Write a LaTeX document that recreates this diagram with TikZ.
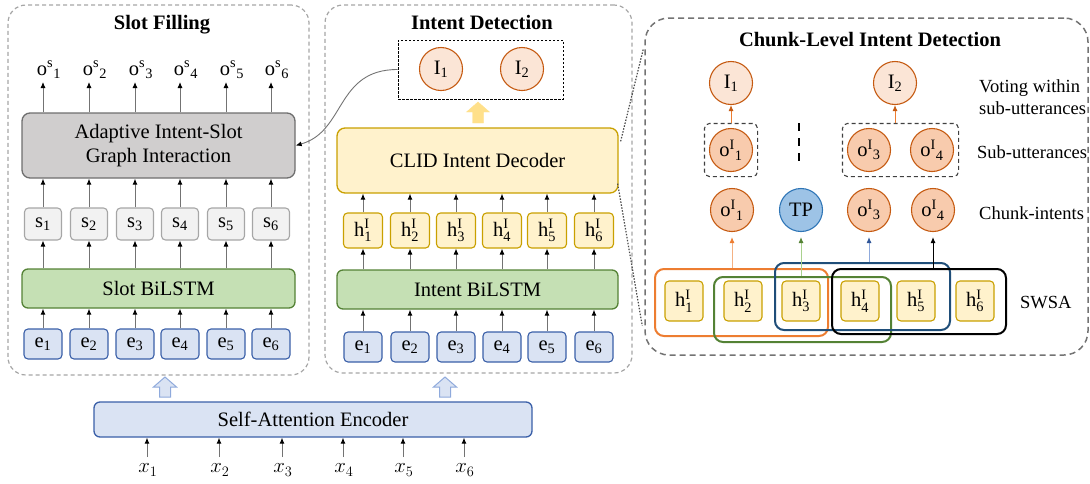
\documentclass[tikz,border=0pt]{standalone}
\usepackage{fontspec}
\setmainfont{Liberation Serif}
\setmathrm{Liberation Serif}
\usetikzlibrary{arrows.meta,fit,calc}

\definecolor{eblue}{HTML}{DAE3F3}
\definecolor{eblueD}{HTML}{3A5FA8}
\definecolor{sgray}{HTML}{F2F2F2}
\definecolor{sgrayD}{HTML}{A6A6A6}
\definecolor{hy}{HTML}{FFF2CC}
\definecolor{hyD}{HTML}{C9A000}
\definecolor{lg}{HTML}{C5E0B4}
\definecolor{lgD}{HTML}{548235}
\definecolor{ag}{HTML}{D0CECE}
\definecolor{agD}{HTML}{6E6E6E}
\definecolor{cl}{HTML}{FBE5D6}
\definecolor{cD}{HTML}{C55A11}
\definecolor{cm}{HTML}{F8CBAD}
\definecolor{tpc}{HTML}{9DC3E6}
\definecolor{tpD}{HTML}{2E75B6}
\definecolor{cor}{HTML}{ED7D31}
\definecolor{corL}{HTML}{F4B183}
\definecolor{cgr}{HTML}{548235}
\definecolor{cgrL}{HTML}{A9D18E}
\definecolor{cbl}{HTML}{1F4E79}
\definecolor{cblL}{HTML}{8FAADC}
\definecolor{cblH}{HTML}{2F5597}
\definecolor{yarr}{HTML}{FFE08A}
\definecolor{barr}{HTML}{DAE3F3}
\definecolor{barrD}{HTML}{8FAADC}

\newcommand\hI[1]{$\mathrm{h}^{\mathrm{I}}_{\mathrm{#1}}$}
\newcommand\oI[1]{o\textsuperscript{I}\textsubscript{#1}}
\newcommand\oS[1]{o\textsuperscript{s}\textsubscript{#1}}
\newcommand\blockup[4]{%
  \draw[#4] (#1-5.5,#3) -- (#1-5.5,#2+10) -- (#1-11.5,#2+10) -- (#1,#2)
    -- (#1+11.5,#2+10) -- (#1+5.5,#2+10) -- (#1+5.5,#3) -- cycle;}

\begin{document}
\begin{tikzpicture}[x=1pt,y=-1pt,
  every node/.style={font=\fontsize{20.5}{23.5}\selectfont, inner sep=0pt},
  panel/.style={draw=black!35, dash pattern=on 4pt off 3pt, line width=1.2pt, rounded corners=18pt},
  cpanel/.style={draw=black!55, dash pattern=on 6pt off 4pt, line width=1.5pt, rounded corners=24pt},
  ebox/.style={draw=eblueD, fill=eblue, line width=1.1pt, rounded corners=4pt, minimum width=38pt, minimum height=30pt},
  sbox/.style={draw=sgrayD, fill=sgray, line width=1.1pt, rounded corners=4pt, minimum width=37pt, minimum height=32pt},
  hbox/.style={draw=hyD, fill=hy, line width=1.1pt, rounded corners=4pt, minimum width=39pt, minimum height=35pt},
  chbox/.style={draw=hyD, fill=hy, line width=1.1pt, rounded corners=4pt, minimum width=38pt, minimum height=40pt},
  lstm/.style={draw=lgD, fill=lg, line width=1.3pt, rounded corners=6pt, minimum height=39pt},
  adapt/.style={draw=agD, fill=ag, line width=1.3pt, rounded corners=8pt, minimum width=273pt, minimum height=65pt, align=center},
  dec/.style={draw=hyD, fill=hy, line width=1.3pt, rounded corners=8pt, minimum width=281pt, minimum height=65pt},
  enc/.style={draw=eblueD, fill=eblue, line width=1.3pt, rounded corners=6pt, minimum width=438pt, minimum height=35pt},
  lightc/.style={circle, draw=cD, fill=cl, line width=1.1pt, minimum size=43pt},
  midc/.style={circle, draw=cD, fill=cm, line width=1.1pt, minimum size=43pt},
  tpcirc/.style={circle, draw=tpD, fill=tpc, line width=1.1pt, minimum size=43pt},
  arr/.style={draw=black!55, line width=0.9pt, -{Latex[length=6pt,width=5pt,color=black]}},
  carr/.style args={#1/#2}{draw=#1, line width=0.9pt, -{Latex[length=6pt,width=5pt,color=#2]}},
  subbox/.style={draw=black!75, dash pattern=on 4pt off 3pt, line width=1.1pt, rounded corners=5pt, inner sep=4.5pt},
  win/.style={draw=#1, line width=2pt, rounded corners=9pt},
  dotline/.style={draw=black!70, line width=1.2pt, dash pattern=on 1.5pt off 1.5pt},
  lab/.style={font=\fontsize{18.5}{22}\selectfont, anchor=west, align=left},
  title/.style={font=\fontsize{20.5}{23.5}\selectfont\bfseries}
  ]
\useasboundingbox (0,0) rectangle (1090,483);

% ---------------- panels
\node[panel, minimum width=301pt, minimum height=370pt] (spanel) at (158.5,190) {};
\node[panel, minimum width=307pt, minimum height=368pt] (ipanel) at (478.5,189) {};
\node[cpanel, minimum width=443pt, minimum height=337pt] (chunk) at (866.5,186.5) {};
\node[title] (stitle) at (162,25) {Slot Filling};
\node[title] (ititle) at (482,22) {Intent Detection};
\node[title] (ctitle) at (870,40) {Chunk-Level Intent Detection};

% ---------------- slot filling
\node[lstm, minimum width=273pt] (slstm) at (158.5,288.5) {Slot BiLSTM};
\node[adapt] (adapt) at (158.5,145.5) {Adaptive Intent-Slot\\Graph Interaction};
\foreach \i/\x in {1/43,2/89,3/135,4/180,5/226,6/271} {
  \node[ebox] (le\i) at (\x,344) {e\textsubscript{\i}};
  \node[sbox] (ls\i) at (\x,224) {s\textsubscript{\i}};
  \node[anchor=base] (lo\i) at (\x+6,75) {\oS{\i}};
  \coordinate (lt\i) at (\x,82);
  \draw[arr] (le\i.north) -- (le\i |- slstm.south);
  \draw[arr] (ls\i |- slstm.north) -- (ls\i.south);
  \draw[arr] (ls\i.north) -- (ls\i |- adapt.south);
  \draw[arr] (ls\i |- adapt.north) -- (lt\i);
}

% ---------------- intent detection
\node[lstm, minimum width=281pt] (ilstm) at (477.5,289.5) {Intent BiLSTM};
\node[dec] (dec) at (477.5,160.5) {CLID Intent Decoder};
\foreach \i/\x in {1/363,2/410,3/456,4/502,5/547,6/594} {
  \node[ebox] (ie\i) at (\x,347) {e\textsubscript{\i}};
  \node[hbox] (ih\i) at (\x,230.5) {\hI{\i}};
  \draw[arr] (ie\i.north) -- (ie\i |- ilstm.south);
  \draw[arr] (ih\i |- ilstm.north) -- (ih\i.south);
  \draw[arr] (ih\i.north) -- (ih\i |- dec.south);
}
\node[lightc] (iI1) at (441,69) {I\textsubscript{1}};
\node[lightc] (iI2) at (522,69) {I\textsubscript{2}};
\node[draw=black, dash pattern=on 2.5pt off 1.5pt, line width=0.9pt, minimum width=165pt, minimum height=59pt] (ibox) at (480.5,69.5) {};
\blockup{478}{102}{123}{fill=yarr, draw=yarr}
\draw[arr] (ibox.west) .. controls +(-62,0) and +(50,-14) .. (adapt.east);

% ---------------- encoder
\node[enc] (enc) at (313,419.5) {Self-Attention Encoder};
\foreach \i/\x in {1/147,2/219,3/282,4/343,5/403,6/464} {
  \node (x\i) at (\x+1,470) {$x_{\i}$};
  \coordinate (xa\i) at (\x,457);
  \draw[arr] (xa\i) -- (xa\i |- enc.south);
}
\blockup{165}{377}{397}{fill=barr, draw=barrD, line width=1pt}
\blockup{445}{377}{397}{fill=barr, draw=barrD, line width=1pt}

% ---------------- dotted zoom lines
\draw[dotline] ($(dec.north east)+(2,14)$) -- ($(chunk.north west)+(-1,32)$);
\draw[dotline] ($(dec.south east)+(-1,-10)$) -- ($(chunk.south west)+(-2,-30)$);

% ---------------- chunk level
\node[lightc] (cI1) at (731,83) {I\textsubscript{1}};
\node[lightc] (cI2) at (895,83) {I\textsubscript{2}};
\node[midc] (su1) at (731,150) {\oI{1}};
\node[midc] (su3) at (869,150) {\oI{3}};
\node[midc] (su4) at (932,150) {\oI{4}};
\node[subbox, fit=(su1)] (sb1) {};
\node[subbox, fit=(su3)(su4)] (sb2) {};
\coordinate (vd1) at (799,123);
\coordinate (vd2) at (799,163);
\draw[line width=2pt, dash pattern=on 8pt off 7pt] (vd1) -- (vd2);
\draw[carr=cor/cD] (sb1.north) -- (cI1.south);
\draw[carr=cor/cD] (cI2 |- sb2.north) -- (cI2.south);

\node[midc] (co1) at (732,210) {\oI{1}};
\node[tpcirc] (ctp) at (801,210) {TP};
\node[midc] (co3) at (869,210) {\oI{3}};
\node[midc] (co4) at (933,210) {\oI{4}};

\foreach \i/\x in {1/684,2/743,3/801,4/860,5/916,6/975} {
  \node[chbox] (ch\i) at (\x,301) {\hI{\i}};
}
\node[win=cor, minimum width=173pt, minimum height=67pt] (wo) at (741.5,302.5) {};
\node[win=cgr, minimum width=177pt, minimum height=65pt] (wg) at (802.5,309.5) {};
\node[win=cbl, minimum width=175pt, minimum height=67pt] (wb) at (862.5,296.5) {};
\node[win=black, minimum width=174pt, minimum height=65pt] (wk) at (919,301.5) {};

\draw[carr=corL/cor] (co1 |- wo.north) -- ([yshift=-5pt]co1.south);
\draw[carr=cgrL/cgr] (ctp |- wg.north) -- ([yshift=-5pt]ctp.south);
\draw[carr=cblL/cblH] (co3 |- wb.north) -- ([yshift=-5pt]co3.south);
\draw[carr=black/black] (co4 |- wk.north) -- ([yshift=-5pt]co4.south);

\node[lab] (l1) at (979,97) {Voting within\\sub-utterances};
\node[lab] (l2) at (977,152) {Sub-utterances};
\node[lab] (l3) at (979,213) {Chunk-intents};
\node[lab] (l4) at (1020,303) {SWSA};
\end{tikzpicture}
\end{document}
